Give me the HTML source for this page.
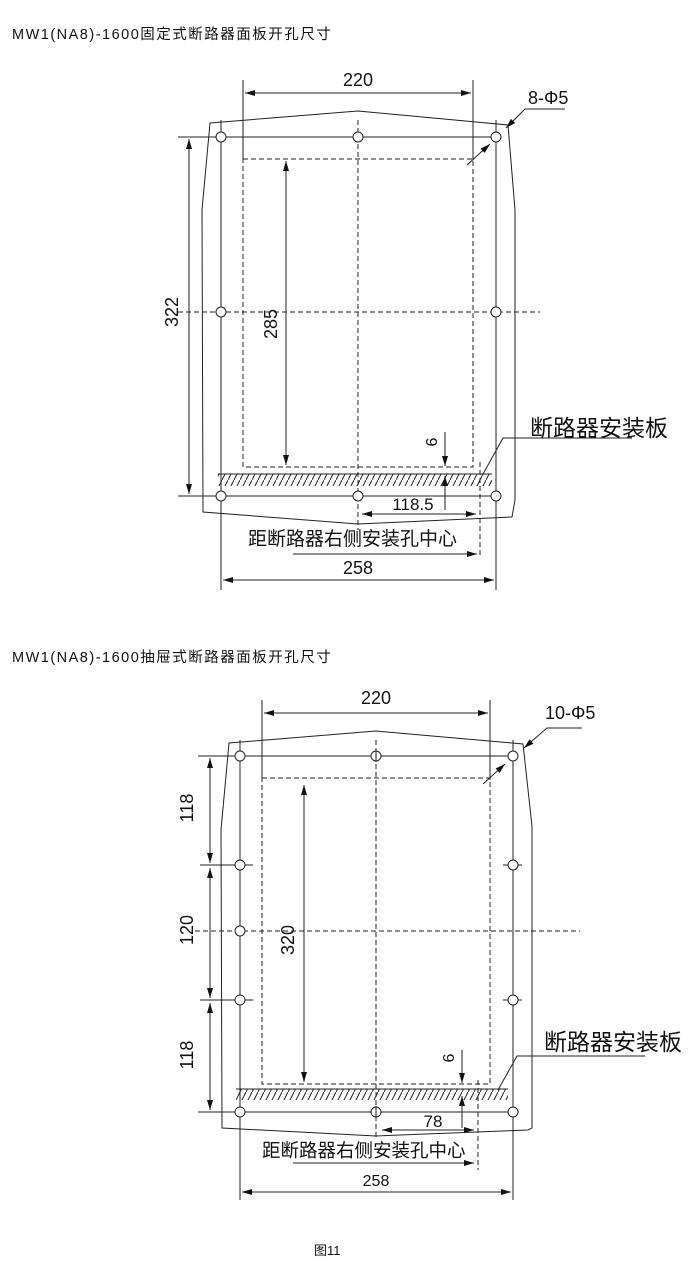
<!DOCTYPE html>
<html><head><meta charset="utf-8"><style>
html,body{margin:0;padding:0;background:#fff;}
svg{display:block;}
text{font-family:"Liberation Sans","Noto Sans CJK SC",sans-serif;fill:#111;}
</style></head><body>
<svg width="700" height="1288" viewBox="0 0 700 1288" xmlns="http://www.w3.org/2000/svg">
<defs>
<marker id="a" viewBox="0 0 10 6" refX="10" refY="3" markerWidth="10" markerHeight="6" markerUnits="userSpaceOnUse" orient="auto-start-reverse"><path d="M0,0L10,3L0,6z" fill="#111"/></marker>
<pattern id="h" width="6" height="12" patternUnits="userSpaceOnUse"><path d="M0,12L6,0" stroke="#222" stroke-width="1"/></pattern>
</defs>
<g stroke="#222" stroke-width="1" fill="none">

<text x="12" y="39" font-size="14.5" stroke="none" letter-spacing="1.5">MW1(NA8)-1600固定式断路器面板开孔尺寸</text>
<path d="M210,123 L358,111 L508,125 L515,210 L515,500 L512,517 L358,524 L203,512 L202,210 Z"/>
<line x1="243" y1="80" x2="243" y2="160"/>
<line x1="473" y1="80" x2="473" y2="160"/>
<line x1="245" y1="93" x2="471" y2="93" marker-start="url(#a)" marker-end="url(#a)"/>
<text x="358" y="86" font-size="18" stroke="none" text-anchor="middle">220</text>
<line x1="178" y1="137" x2="500" y2="137"/>
<line x1="178" y1="496" x2="500" y2="496"/>
<line x1="221" y1="120" x2="221" y2="590"/>
<line x1="496" y1="120" x2="496" y2="590"/>
<g stroke-dasharray="5,3">
<rect x="243" y="159" width="230" height="308"/>
<line x1="358" y1="120" x2="358" y2="530"/>
<line x1="178" y1="312" x2="540" y2="312"/>
<line x1="480" y1="462" x2="480" y2="558"/>
</g>
<g fill="#fff">
<circle cx="221" cy="137" r="5"/><circle cx="358" cy="137" r="5"/><circle cx="496" cy="137" r="5"/>
<circle cx="221" cy="312" r="5"/><circle cx="496" cy="312" r="5"/>
<circle cx="221" cy="496" r="5"/><circle cx="358" cy="496" r="5"/><circle cx="496" cy="496" r="5"/>
</g>
<line x1="189" y1="139" x2="189" y2="494" marker-start="url(#a)" marker-end="url(#a)"/>
<text transform="translate(178,312) rotate(-90)" font-size="18" stroke="none" text-anchor="middle">322</text>
<line x1="286" y1="161" x2="286" y2="465" marker-start="url(#a)" marker-end="url(#a)"/>
<text transform="translate(277,324) rotate(-90)" font-size="18" stroke="none" text-anchor="middle">285</text>
<rect x="218" y="474" width="274" height="12" fill="url(#h)" stroke="none"/>
<line x1="218" y1="474" x2="492" y2="474"/>
<line x1="445" y1="432" x2="445" y2="466" marker-end="url(#a)"/>
<line x1="445" y1="510" x2="445" y2="476" marker-end="url(#a)"/>
<text transform="translate(437,442) rotate(-90)" font-size="16" stroke="none" text-anchor="middle">6</text>
<line x1="362" y1="514" x2="476" y2="514" marker-start="url(#a)" marker-end="url(#a)"/>
<text x="413" y="510" font-size="17" stroke="none" text-anchor="middle">118.5</text>
<text x="530" y="436" font-size="23" stroke="none">断路器安装板</text>
<path d="M632,438 L503,438 L483,474"/>
<text x="248" y="545" font-size="19" stroke="none">距断路器右侧安装孔中心</text>
<line x1="293" y1="554" x2="477" y2="554" marker-end="url(#a)"/>
<line x1="223" y1="580" x2="494" y2="580" marker-start="url(#a)" marker-end="url(#a)"/>
<text x="358" y="574" font-size="18" stroke="none" text-anchor="middle">258</text>
<text x="528" y="104" font-size="18" stroke="none">8-Φ5</text>
<path d="M565,109 L525,109 L506,128" marker-end="url(#a)"/>
<line x1="467" y1="165" x2="490" y2="144" marker-end="url(#a)"/>

<text x="12" y="662" font-size="14.5" stroke="none" letter-spacing="1.5">MW1(NA8)-1600抽屉式断路器面板开孔尺寸</text>
<path d="M229,743 L376,731 L523,744 L532,826 L532,1128 L528,1130 L376,1136 L222,1128 L221,830 Z"/>
<line x1="262" y1="700" x2="262" y2="780"/>
<line x1="490" y1="700" x2="490" y2="780"/>
<line x1="264" y1="713" x2="488" y2="713" marker-start="url(#a)" marker-end="url(#a)"/>
<text x="376" y="704" font-size="18" stroke="none" text-anchor="middle">220</text>
<line x1="198" y1="756" x2="517" y2="756"/>
<line x1="198" y1="1112" x2="517" y2="1112"/>
<line x1="200" y1="865" x2="253" y2="865"/>
<line x1="200" y1="1000" x2="253" y2="1000"/>
<line x1="503" y1="865" x2="522" y2="865"/>
<line x1="503" y1="1000" x2="522" y2="1000"/>
<line x1="240" y1="740" x2="240" y2="1200"/>
<line x1="513" y1="740" x2="513" y2="1200"/>
<g stroke-dasharray="5,3">
<rect x="262" y="778" width="228" height="306"/>
<line x1="376" y1="740" x2="376" y2="1140"/>
<line x1="195" y1="931" x2="580" y2="931"/>
<line x1="478" y1="1080" x2="478" y2="1170"/>
</g>
<g fill="#fff">
<circle cx="240" cy="756" r="5"/><circle cx="376" cy="756" r="5"/><circle cx="513" cy="756" r="5"/>
<circle cx="240" cy="865" r="5"/><circle cx="513" cy="865" r="5"/>
<circle cx="240" cy="931" r="5"/>
<circle cx="240" cy="1000" r="5"/><circle cx="513" cy="1000" r="5"/>
<circle cx="240" cy="1112" r="5"/><circle cx="376" cy="1112" r="5"/><circle cx="513" cy="1112" r="5"/>
</g>
<line x1="376" y1="750" x2="376" y2="762"/>
<line x1="376" y1="1106" x2="376" y2="1118"/>
<line x1="210" y1="758" x2="210" y2="863" marker-start="url(#a)" marker-end="url(#a)"/>
<line x1="210" y1="868" x2="210" y2="998" marker-start="url(#a)" marker-end="url(#a)"/>
<line x1="210" y1="1003" x2="210" y2="1110" marker-start="url(#a)" marker-end="url(#a)"/>
<text transform="translate(193,808) rotate(-90)" font-size="18" stroke="none" text-anchor="middle">118</text>
<text transform="translate(193,930) rotate(-90)" font-size="18" stroke="none" text-anchor="middle">120</text>
<text transform="translate(193,1055) rotate(-90)" font-size="18" stroke="none" text-anchor="middle">118</text>
<line x1="304" y1="785" x2="304" y2="1082" marker-start="url(#a)" marker-end="url(#a)"/>
<text transform="translate(294,940) rotate(-90)" font-size="18" stroke="none" text-anchor="middle">320</text>
<rect x="236" y="1089" width="272" height="11" fill="url(#h)" stroke="none"/>
<line x1="236" y1="1089" x2="508" y2="1089"/>
<line x1="462" y1="1050" x2="462" y2="1083" marker-end="url(#a)"/>
<line x1="462" y1="1128" x2="462" y2="1096" marker-end="url(#a)"/>
<text transform="translate(454,1058) rotate(-90)" font-size="16" stroke="none" text-anchor="middle">6</text>
<line x1="382" y1="1130" x2="474" y2="1130" marker-start="url(#a)" marker-end="url(#a)"/>
<text x="433" y="1127" font-size="17" stroke="none" text-anchor="middle">78</text>
<text x="544" y="1050" font-size="23" stroke="none">断路器安装板</text>
<path d="M645,1056 L517,1056 L498,1090"/>
<text x="262" y="1157" font-size="18.5" stroke="none">距断路器右侧安装孔中心</text>
<line x1="293" y1="1163" x2="474" y2="1163" marker-end="url(#a)"/>
<line x1="242" y1="1192" x2="511" y2="1192" marker-start="url(#a)" marker-end="url(#a)"/>
<text x="376" y="1186" font-size="16" stroke="none" text-anchor="middle">258</text>
<text x="545" y="719" font-size="18" stroke="none">10-Φ5</text>
<path d="M582,728 L547,728 L524,748" marker-end="url(#a)"/>
<line x1="483" y1="784" x2="505" y2="764" marker-end="url(#a)"/>

<text x="314" y="1255" font-size="13" stroke="none">图11</text>
</g>
</svg>
</body></html>
